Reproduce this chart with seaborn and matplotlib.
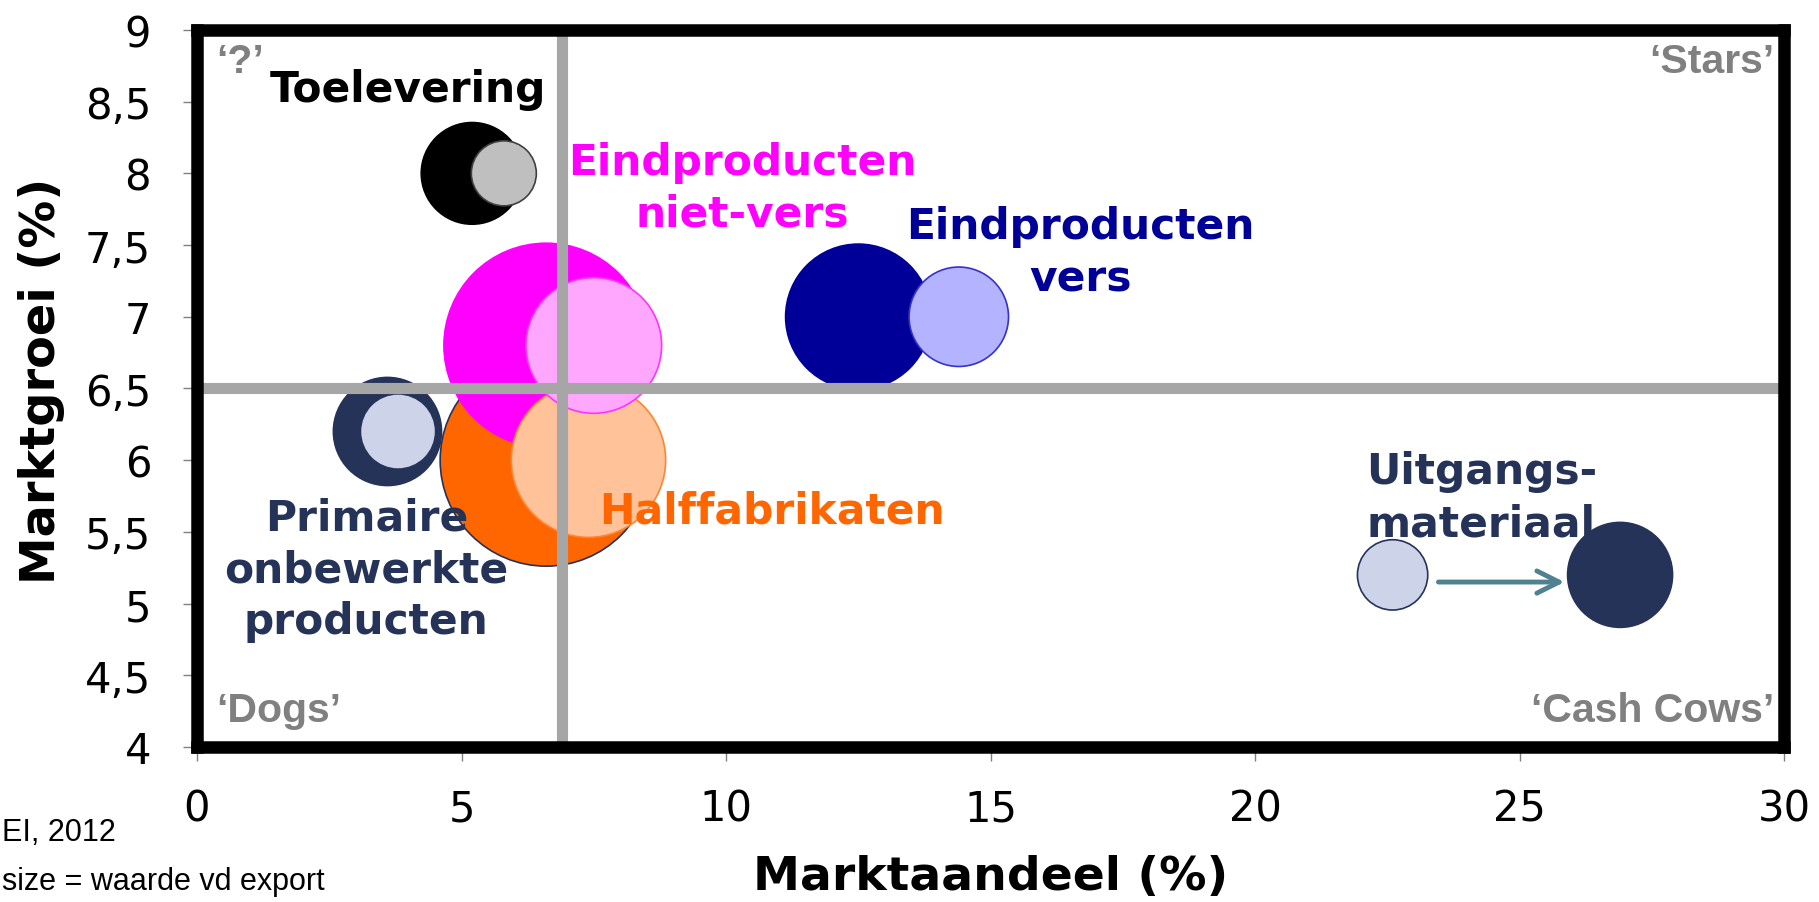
import numpy as np
import pandas as pd
import matplotlib
matplotlib.use("Agg")
import matplotlib.pyplot as plt
import seaborn as sns

# ---------------- data ----------------
categories = ["Toelevering", "Primaire", "Halffabrikaten",
              "Eindproducten niet-vers", "Eindproducten vers", "Uitgangsmateriaal"]
# dark (large) bubbles
dark_x = [5.2, 3.6, 6.6, 6.6, 12.5, 26.9]
dark_y = [8.0, 6.2, 6.0, 6.8, 7.0, 5.2]
dark_value = [23, 26, 100, 93, 47, 24.5]
# light (small) bubbles
light_x = [5.8, 3.8, 7.4, 7.5, 14.4, 22.6]
light_y = [8.0, 6.2, 6.0, 6.8, 7.0, 5.2]
light_value = [9.4, 11.5, 53, 41, 22, 11]

x_ticks = [0, 5, 10, 15, 20, 25, 30]
y_ticks = [4, 4.5, 5, 5.5, 6, 6.5, 7, 7.5, 8, 8.5, 9]
y_ticklabels = ["4", "4,5", "5", "5,5", "6", "6,5", "7", "7,5", "8", "8,5", "9"]
x_split = 6.9
y_split = 6.5

label_texts = ["Toelevering", "Primaire\nonbewerkte\nproducten", "Halffabrikaten",
               "Eindproducten\nniet-vers", "Eindproducten\nvers", "Uitgangs-\nmateriaal"]

# ---------------- styles ----------------
dark_colors = ["#000000", "#263359", "#FF6600", "#FF00FF", "#000099", "#263359"]
light_colors = ["#BFBFBF", "#CDD4EA", "#FFC299", "#FFA6FF", "#B3B3FF", "#CDD4EA"]
dark_edges = ["#000000", "#263359", "#263359", "#FF00FF", "#000099", "#263359"]
light_edges = ["#404040", "#CDD4EA", "#FF8533", "#FF33FF", "#3333CC", "#263359"]
text_colors = ["#000000", "#263359", "#FF6600", "#FF00FF", "#000099", "#263359"]
label_pos = [(1.38, 8.59, "left"), (3.2, 5.24, "center"), (7.6, 5.65, "left"),
             (10.3, 7.9, "center"), (16.7, 7.45, "center"), (22.1, 5.74, "left")]

sns.set_style("white")
plt.rcParams["font.family"] = ["DejaVu Sans"]
plt.rcParams["text.color"] = "black"
plt.rcParams["axes.labelcolor"] = "black"

rows = []
for i, c in enumerate(categories):
    rows.append(dict(x=dark_x[i], y=dark_y[i], value=dark_value[i], key=c + "|d"))
for i, c in enumerate(categories):
    rows.append(dict(x=light_x[i], y=light_y[i], value=light_value[i], key=c + "|l"))
df = pd.DataFrame(rows)
palette = {c + "|d": dark_colors[i] for i, c in enumerate(categories)}
palette.update({c + "|l": light_colors[i] for i, c in enumerate(categories)})
edges = dark_edges + light_edges

fig = plt.figure(figsize=(18.19, 9.03), dpi=100)
ax = fig.add_axes([0.1083, 0.1717, 0.8725, 0.794])

smax = (2 * 106 * 0.72) ** 2
sns.scatterplot(data=df, x="x", y="y", hue="key", palette=palette,
                size="value", sizes=(0, smax), size_norm=(0, 100),
                edgecolor=edges, linewidth=1.2, legend=False, ax=ax, zorder=2)

ax.axvline(x_split, color="#A6A6A6", lw=8, zorder=3)
ax.axhline(y_split, color="#A6A6A6", lw=8, zorder=3)

# arrow from light to dark Uitgangsmateriaal
ax.annotate("", xy=(dark_x[5], dark_y[5] - 0.05), xytext=(light_x[5], light_y[5] - 0.05),
            arrowprops=dict(arrowstyle="->", color="#4F818F", lw=3.5,
                            mutation_scale=40, shrinkA=33, shrinkB=40),
            zorder=3)

for i, t in enumerate(label_texts):
    lx, ly, ha = label_pos[i]
    ax.text(lx, ly, t, color=text_colors[i], fontsize=30.5, fontweight="bold",
            ha=ha, va="center", multialignment=ha, linespacing=1.3, zorder=5)

qkw = dict(color="#808080", fontsize=29.5, fontweight="bold",
           family=["Liberation Sans", "DejaVu Sans"], transform=ax.transAxes, zorder=5)
ax.text(0.012, 0.957, "\u2018?\u2019", ha="left", va="center", **qkw)
ax.text(0.994, 0.957, "\u2018Stars\u2019", ha="right", va="center", **qkw)
ax.text(0.012, 0.052, "\u2018Dogs\u2019", ha="left", va="center", **qkw)
ax.text(0.994, 0.052, "\u2018Cash Cows\u2019", ha="right", va="center", **qkw)

ax.set_xlim(0, 30)
ax.set_ylim(4, 9)
ax.set_xticks(x_ticks)
ax.set_xticklabels([str(v) for v in x_ticks])
ax.set_yticks(y_ticks)
ax.set_yticklabels(y_ticklabels)
ax.tick_params(axis="both", labelsize=30, length=10, width=1, color="#808080",
               labelcolor="black", direction="out", left=True, bottom=True)
ax.tick_params(axis="y", pad=23)
ax.tick_params(axis="x", pad=19)

ax.set_xlabel("Marktaandeel (%)", fontsize=34, fontweight="bold", color="black")
ax.set_ylabel("Marktgroei (%)", fontsize=34.5, fontweight="bold", color="black")
ax.xaxis.set_label_coords(0.5, -0.149)
ax.yaxis.set_label_coords(-0.083, 0.512)

for sp in ax.spines.values():
    sp.set_visible(True)
    sp.set_color("black")
    sp.set_linewidth(9)
    sp.set_zorder(10)

fig.text(0.001, 0.0775, "EI, 2012", fontsize=22, color="black",
         family=["Liberation Sans", "DejaVu Sans"], ha="left", va="center")
fig.text(0.001, 0.023, "size = waarde vd export", fontsize=22, color="black",
         family=["Liberation Sans", "DejaVu Sans"], ha="left", va="center")

fig.savefig("out.png", dpi=100)
